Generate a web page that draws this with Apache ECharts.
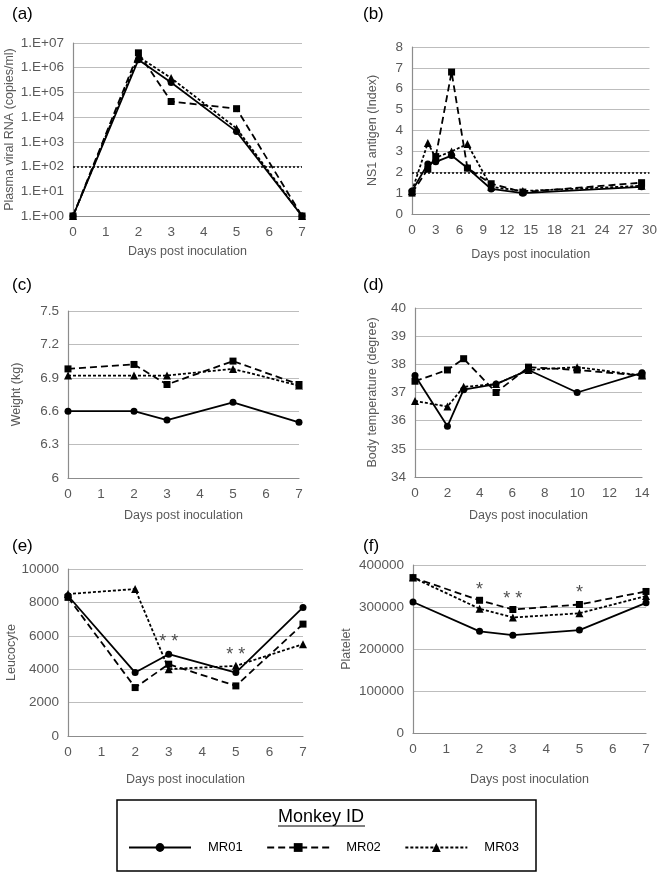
<!DOCTYPE html>
<html>
<head>
<meta charset="utf-8">
<script src="https://cdn.jsdelivr.net/npm/echarts@6/dist/echarts.min.js"></script>
<style>
html,body{margin:0;padding:0;background:#fff;}
#chart{width:660px;height:874px;}
</style>
</head>
<body>
<div id="chart"></div>
<script>
// ---------- DATA ----------
const monkeys = ['MR01', 'MR02', 'MR03'];
const days7 = [0, 2, 3, 5, 7];
const daysNS1 = [0, 2, 3, 5, 7, 10, 14, 29];
const daysTemp = [0, 2, 3, 5, 7, 10, 14];

// (a) Plasma viral RNA (copies/ml)
const rnaMR01 = [1, 2.1e6, 2.5e5, 2.6e3, 1];
const rnaMR02 = [1, 4.0e6, 4.3e4, 2.2e4, 1];
const rnaMR03 = [1, 2.8e6, 3.8e5, 3.5e3, 1];
const rnaThreshold = 100;

// (b) NS1 antigen (Index)
const ns1MR01 = [1.1, 2.4, 2.5, 2.8, 2.2, 1.2, 1.0, 1.3];
const ns1MR02 = [1.0, 2.15, 2.75, 6.8, 2.2, 1.45, 1.05, 1.5];
const ns1MR03 = [1.1, 3.4, 2.7, 3.0, 3.35, 1.3, 1.1, 1.35];
const ns1Threshold = 2;

// (c) Weight (kg)
const wMR01 = [6.6, 6.6, 6.52, 6.68, 6.5];
const wMR02 = [6.98, 7.02, 6.84, 7.05, 6.84];
const wMR03 = [6.92, 6.92, 6.92, 6.98, 6.83];

// (d) Body temperature (degree)
const tMR01 = [37.6, 35.8, 37.1, 37.3, 37.8, 37.0, 37.7];
const tMR02 = [37.4, 37.8, 38.2, 37.0, 37.9, 37.8, 37.6];
const tMR03 = [36.7, 36.5, 37.2, 37.3, 37.8, 37.9, 37.6];

// (e) Leucocyte
const leuMR01 = [8400, 3800, 4900, 3800, 7700];
const leuMR02 = [8300, 2900, 4300, 3000, 6700];
const leuMR03 = [8500, 8800, 4000, 4200, 5500];
const leuStars = [[3, 5600, '* *'], [5, 4850, '* *']];

// (f) Platelet
const pltMR01 = [312000, 242000, 233000, 245000, 310000];
const pltMR02 = [370000, 316000, 294000, 306000, 337000];
const pltMR03 = [370000, 296000, 275000, 285000, 326000];
const pltStars = [[2, 340000, '*'], [3, 318000, '* *'], [5, 334000, '*']];

// ---------- BUILD ----------
const zip = (xs, ys) => xs.map((x, i) => [x, ys[i]]);
const labelColor = '#595959';
const font = 'Liberation Sans, Arial, sans-serif';
const styles = {
  MR01: { symbol: 'circle', size: 7, dash: 'solid' },
  MR02: { symbol: 'rect', size: 7, dash: [7, 4] },
  MR03: { symbol: 'triangle', size: 8, dash: [3, 2] }
};

const grids = [
  { left: 73, top: 43, width: 229, height: 173 },
  { left: 412, top: 47, width: 239, height: 167 },
  { left: 68, top: 311, width: 231, height: 167 },
  { left: 415, top: 308, width: 227, height: 169 },
  { left: 68, top: 569, width: 235, height: 167 },
  { left: 413, top: 565, width: 233, height: 168 }
];

function xAx(gi, max, interval, nameGap) {
  return {
    type: 'value', gridIndex: gi, min: 0, max: max, interval: interval,
    name: 'Days post inoculation', nameLocation: 'middle', nameGap: nameGap,
    nameTextStyle: { color: labelColor, fontSize: 12.5, fontFamily: font },
    axisLine: { show: true, lineStyle: { color: '#8c8c8c', width: 1.2 } },
    axisTick: { show: false },
    axisLabel: { color: labelColor, fontSize: 13.5, fontFamily: font, margin: 9 },
    splitLine: { show: false }
  };
}
const plain = v => String(v);
function yAx(gi, name, min, max, interval, nameGap, formatter, extra) {
  return Object.assign({
    type: 'value', gridIndex: gi, min: min, max: max, interval: interval,
    name: name, nameLocation: 'middle', nameGap: nameGap, nameRotate: 90,
    nameTextStyle: { color: labelColor, fontSize: 12.5, fontFamily: font },
    axisLine: { show: true, lineStyle: { color: '#8c8c8c', width: 1.2 } },
    axisTick: { show: false },
    axisLabel: { color: labelColor, fontSize: 13.5, fontFamily: font, margin: 9, formatter: formatter },
    splitLine: { show: true, lineStyle: { color: '#bdbdbd', width: 1 } }
  }, extra || {});
}

const xAxes = [
  xAx(0, 7, 1, 29), xAx(1, 30, 3, 34), xAx(2, 7, 1, 31), xAx(3, 14, 2, 32), xAx(4, 7, 1, 37), xAx(5, 7, 1, 40)
];
const yAxes = [
  yAx(0, 'Plasma viral RNA (copies/ml)', 1, 1e7, undefined, 57,
    v => '1.E+' + String(Math.round(Math.log10(v))).padStart(2, '0'),
    { type: 'log', logBase: 10 }),
  yAx(1, 'NS1 antigen (Index)', 0, 8, 1, 33, plain),
  yAx(2, 'Weight (kg)', 6, 7.5, 0.3, 45, v => String(Math.round(v * 10) / 10)),
  yAx(3, 'Body temperature (degree)', 34, 40, 1, 36, plain),
  yAx(4, 'Leucocyte', 0, 10000, 2000, 47, plain),
  yAx(5, 'Platelet', 0, 400000, 100000, 60, plain)
];

const series = [];
function addLines(gi, xs, arrs, threshold) {
  monkeys.forEach((m, k) => {
    const st = styles[m];
    const s = {
      name: m, type: 'line', xAxisIndex: gi, yAxisIndex: gi,
      data: zip(xs, arrs[k]),
      symbol: st.symbol, symbolSize: st.size, showSymbol: true,
      lineStyle: { color: '#000', width: 1.8, type: st.dash },
      itemStyle: { color: '#000' },
      emphasis: { disabled: true }, animation: false, z: 3 - k
    };
    if (k === 0 && threshold !== undefined) {
      s.markLine = {
        silent: true, symbol: ['none', 'none'], label: { show: false },
        lineStyle: { color: '#000', type: [2, 2], width: 1.5 },
        data: [{ yAxis: threshold }], animation: false
      };
    }
    series.push(s);
  });
}
function addStars(gi, stars) {
  series.push({
    type: 'scatter', xAxisIndex: gi, yAxisIndex: gi, symbolSize: 0, silent: true,
    data: stars.map(s => ({ value: [s[0], s[1]], text: s[2] })),
    label: { show: true, position: 'inside', formatter: p => p.data.text,
      color: '#222', fontSize: 18, fontFamily: font },
    animation: false
  });
}

addLines(0, days7, [rnaMR01, rnaMR02, rnaMR03], rnaThreshold);
addLines(1, daysNS1, [ns1MR01, ns1MR02, ns1MR03], ns1Threshold);
addLines(2, days7, [wMR01, wMR02, wMR03]);
addLines(3, daysTemp, [tMR01, tMR02, tMR03]);
addLines(4, days7, [leuMR01, leuMR02, leuMR03]);
addLines(5, days7, [pltMR01, pltMR02, pltMR03]);
addStars(4, leuStars);
addStars(5, pltStars);

const panelLabels = [['(a)', 12, 14], ['(b)', 363, 14], ['(c)', 12, 285], ['(d)', 363, 285], ['(e)', 12, 546], ['(f)', 363, 546]];

const option = {
  backgroundColor: '#fff',
  animation: false,
  grid: grids,
  xAxis: xAxes,
  yAxis: yAxes,
  series: series,
  legend: {
    data: monkeys, left: 123, top: 836, orient: 'horizontal',
    itemWidth: 62, itemHeight: 11, itemGap: 23.5, selectedMode: false,
    textStyle: { color: '#000', fontSize: 13, fontFamily: font, padding: [0, 0, 0, 12] }
  },
  graphic: [
    { type: 'rect', shape: { x: 117, y: 800, width: 419, height: 71 },
      style: { fill: 'none', stroke: '#000', lineWidth: 1.5 }, silent: true },
    { type: 'text', x: 321, y: 817,
      style: { text: 'Monkey ID', fill: '#000', font: '18px ' + font, textAlign: 'center', textVerticalAlign: 'middle' } },
    { type: 'line', shape: { x1: 278, y1: 826, x2: 365, y2: 826 }, style: { stroke: '#000', lineWidth: 1 } }
  ].concat(panelLabels.map(p => ({
    type: 'text', x: p[1], y: p[2],
    style: { text: p[0], fill: '#000', font: '17px ' + font, textAlign: 'left', textVerticalAlign: 'middle' }
  })))
};

const chart = echarts.init(document.getElementById('chart'), null, { renderer: 'canvas' });
chart.setOption(option);
</script>
</body>
</html>
